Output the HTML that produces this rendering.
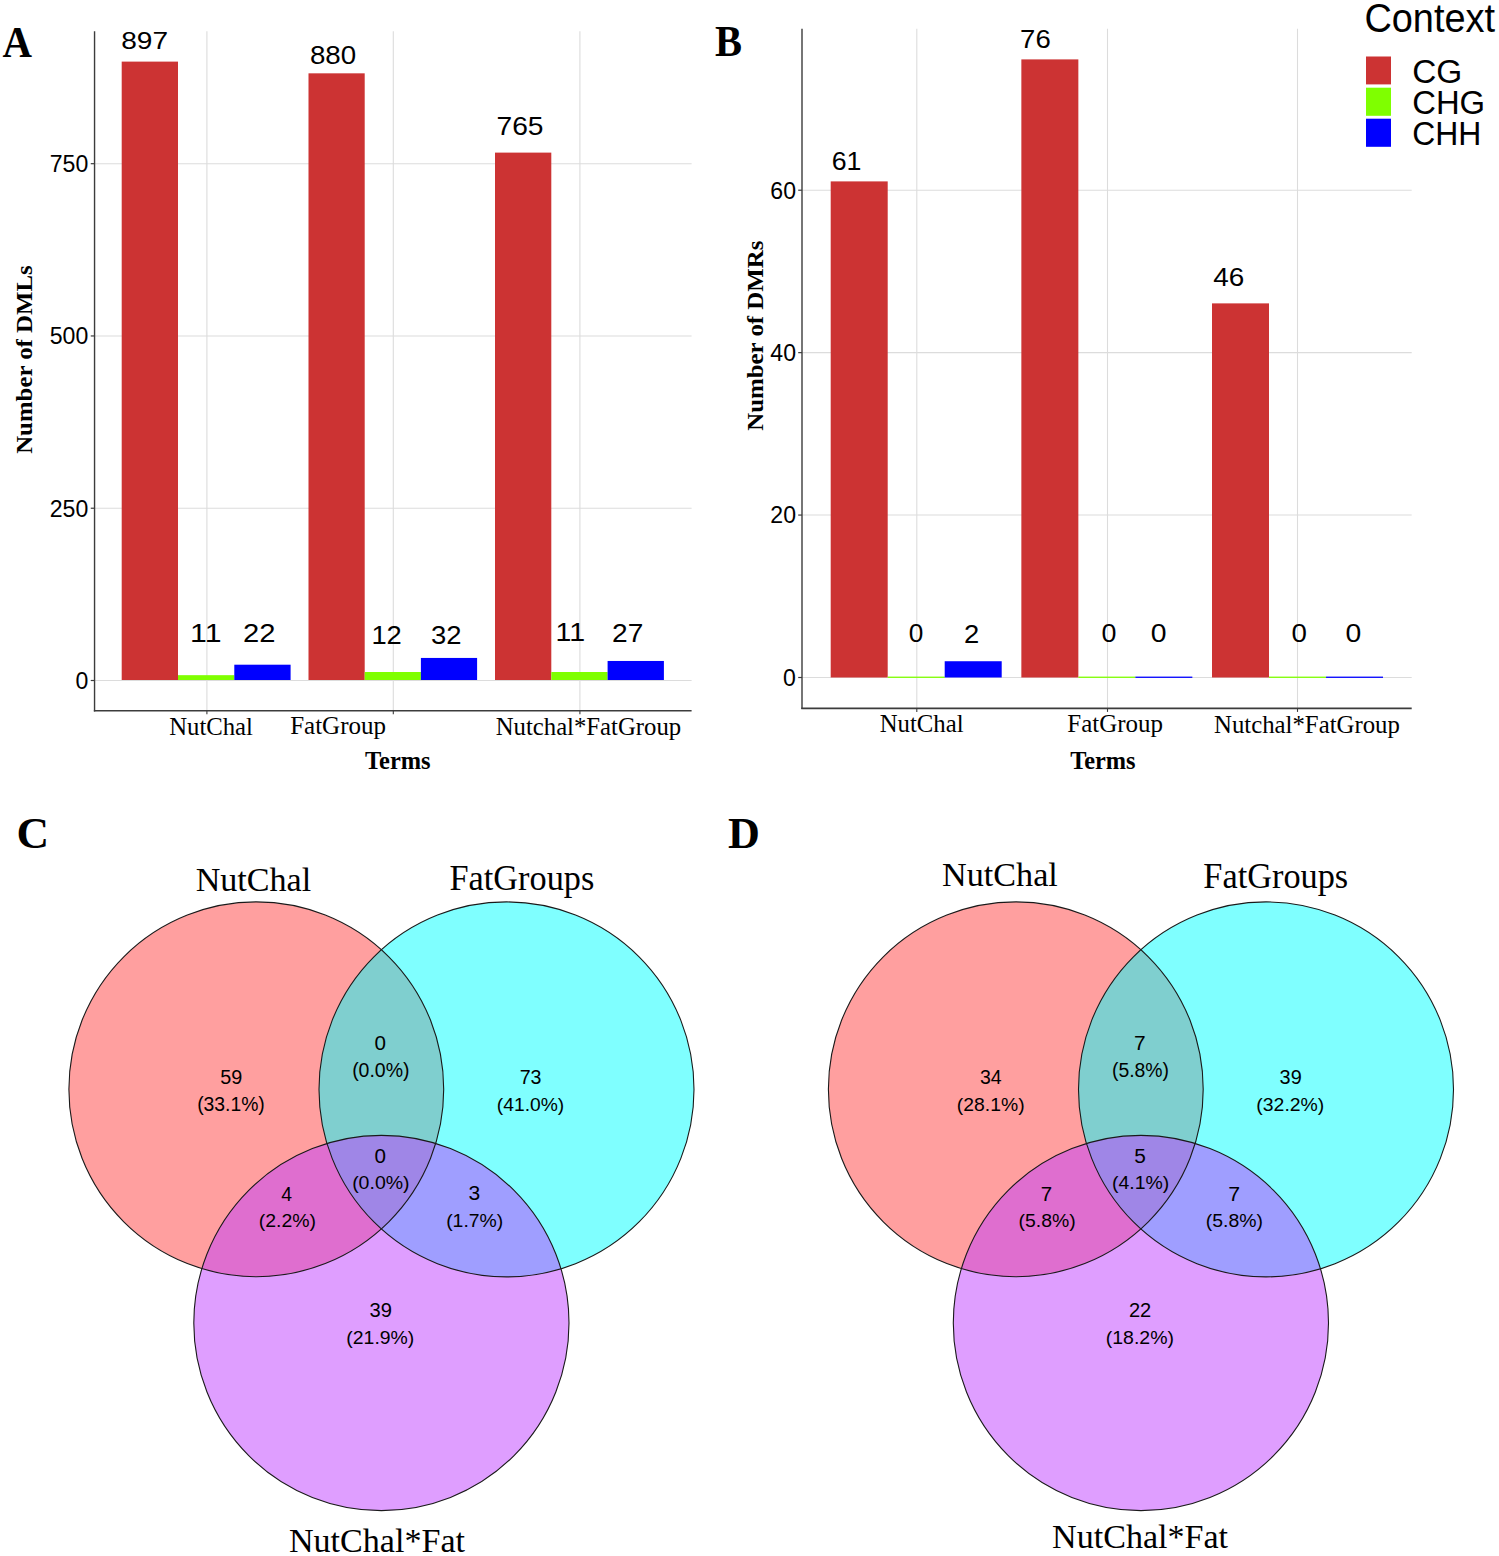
<!DOCTYPE html>
<html><head><meta charset="utf-8"><style>
html,body{margin:0;padding:0;background:#fff;}
body{width:1499px;height:1556px;overflow:hidden;}
svg{display:block;}
text{fill:#000;}
</style></head><body>
<svg width="1499" height="1556" viewBox="0 0 1499 1556">
<line x1="94.55" y1="680.5" x2="691.6" y2="680.5" stroke="#dcdcdc" stroke-width="1.1"/>
<line x1="94.55" y1="508.23" x2="691.6" y2="508.23" stroke="#dcdcdc" stroke-width="1.1"/>
<line x1="94.55" y1="335.96" x2="691.6" y2="335.96" stroke="#dcdcdc" stroke-width="1.1"/>
<line x1="94.55" y1="163.69" x2="691.6" y2="163.69" stroke="#dcdcdc" stroke-width="1.1"/>
<line x1="206.9" y1="31.3" x2="206.9" y2="710.8" stroke="#dcdcdc" stroke-width="1.1"/>
<line x1="393.3" y1="31.3" x2="393.3" y2="710.8" stroke="#dcdcdc" stroke-width="1.1"/>
<line x1="579.9" y1="31.3" x2="579.9" y2="710.8" stroke="#dcdcdc" stroke-width="1.1"/>
<rect x="121.7" y="61.61" width="56.3" height="618.39" fill="#cc3333"/>
<rect x="178" y="675.17" width="56.3" height="4.83" fill="#7fff00"/>
<rect x="234.3" y="664.7" width="56.3" height="15.3" fill="#0000ff"/>
<rect x="308.5" y="73.33" width="56.2" height="606.67" fill="#cc3333"/>
<rect x="364.7" y="672" width="56.2" height="8" fill="#7fff00"/>
<rect x="420.9" y="657.94" width="56.2" height="22.06" fill="#0000ff"/>
<rect x="495" y="152.61" width="56.3" height="527.39" fill="#cc3333"/>
<rect x="551.3" y="672" width="56.3" height="8" fill="#7fff00"/>
<rect x="607.6" y="660.97" width="56.3" height="19.03" fill="#0000ff"/>
<line x1="94.55" y1="31.3" x2="94.55" y2="711.5" stroke="#3c3c3c" stroke-width="1.4"/>
<line x1="93.85" y1="710.8" x2="691.6" y2="710.8" stroke="#3c3c3c" stroke-width="1.6"/>
<line x1="90.75" y1="680.5" x2="94.55" y2="680.5" stroke="#3c3c3c" stroke-width="1.2"/>
<line x1="90.75" y1="508.23" x2="94.55" y2="508.23" stroke="#3c3c3c" stroke-width="1.2"/>
<line x1="90.75" y1="335.96" x2="94.55" y2="335.96" stroke="#3c3c3c" stroke-width="1.2"/>
<line x1="90.75" y1="163.69" x2="94.55" y2="163.69" stroke="#3c3c3c" stroke-width="1.2"/>
<line x1="206.9" y1="710.8" x2="206.9" y2="714.3" stroke="#3c3c3c" stroke-width="1.1"/>
<line x1="393.3" y1="710.8" x2="393.3" y2="714.3" stroke="#3c3c3c" stroke-width="1.1"/>
<line x1="579.9" y1="710.8" x2="579.9" y2="714.3" stroke="#3c3c3c" stroke-width="1.1"/>
<line x1="802" y1="677.5" x2="1411.7" y2="677.5" stroke="#dcdcdc" stroke-width="1.1"/>
<line x1="802" y1="515.07" x2="1411.7" y2="515.07" stroke="#dcdcdc" stroke-width="1.1"/>
<line x1="802" y1="352.64" x2="1411.7" y2="352.64" stroke="#dcdcdc" stroke-width="1.1"/>
<line x1="802" y1="190.21" x2="1411.7" y2="190.21" stroke="#dcdcdc" stroke-width="1.1"/>
<line x1="916.8" y1="28.8" x2="916.8" y2="708.4" stroke="#dcdcdc" stroke-width="1.1"/>
<line x1="1107.5" y1="28.8" x2="1107.5" y2="708.4" stroke="#dcdcdc" stroke-width="1.1"/>
<line x1="1297.5" y1="28.8" x2="1297.5" y2="708.4" stroke="#dcdcdc" stroke-width="1.1"/>
<rect x="830.7" y="181.39" width="57" height="496.11" fill="#cc3333"/>
<rect x="887.7" y="676.6" width="57" height="1.3" fill="#7fff00"/>
<rect x="944.7" y="661.23" width="57" height="16.27" fill="#0000ff"/>
<rect x="1021.35" y="59.39" width="57" height="618.11" fill="#cc3333"/>
<rect x="1078.35" y="676.6" width="57" height="1.3" fill="#7fff00"/>
<rect x="1135.35" y="676.6" width="57" height="1.3" fill="#0000ff"/>
<rect x="1212" y="303.38" width="57" height="374.12" fill="#cc3333"/>
<rect x="1269" y="676.6" width="57" height="1.3" fill="#7fff00"/>
<rect x="1326" y="676.6" width="57" height="1.3" fill="#0000ff"/>
<line x1="802" y1="28.8" x2="802" y2="709.1" stroke="#3c3c3c" stroke-width="1.4"/>
<line x1="801.3" y1="708.4" x2="1411.7" y2="708.4" stroke="#3c3c3c" stroke-width="1.6"/>
<line x1="798.2" y1="677.5" x2="802" y2="677.5" stroke="#3c3c3c" stroke-width="1.2"/>
<line x1="798.2" y1="515.07" x2="802" y2="515.07" stroke="#3c3c3c" stroke-width="1.2"/>
<line x1="798.2" y1="352.64" x2="802" y2="352.64" stroke="#3c3c3c" stroke-width="1.2"/>
<line x1="798.2" y1="190.21" x2="802" y2="190.21" stroke="#3c3c3c" stroke-width="1.2"/>
<line x1="916.8" y1="708.4" x2="916.8" y2="711.9" stroke="#3c3c3c" stroke-width="1.1"/>
<line x1="1107.5" y1="708.4" x2="1107.5" y2="711.9" stroke="#3c3c3c" stroke-width="1.1"/>
<line x1="1297.5" y1="708.4" x2="1297.5" y2="711.9" stroke="#3c3c3c" stroke-width="1.1"/>
<rect x="1366" y="56.5" width="25" height="27.9" fill="#cc3333"/>
<rect x="1366" y="87.7" width="25" height="28.1" fill="#7fff00"/>
<rect x="1366" y="118.7" width="25" height="28.1" fill="#0000ff"/>
<circle cx="256.3" cy="1089.3" r="187.4" fill="#ff4040" fill-opacity="0.5"/>
<circle cx="506.5" cy="1089.4" r="187.5" fill="#00ffff" fill-opacity="0.5"/>
<circle cx="381.4" cy="1323" r="187.6" fill="#bf3eff" fill-opacity="0.5"/>
<circle cx="256.3" cy="1089.3" r="187.4" fill="none" stroke="#1a1a1a" stroke-width="1.1"/>
<circle cx="506.5" cy="1089.4" r="187.5" fill="none" stroke="#1a1a1a" stroke-width="1.1"/>
<circle cx="381.4" cy="1323" r="187.6" fill="none" stroke="#1a1a1a" stroke-width="1.1"/>
<circle cx="1015.8" cy="1089.3" r="187.4" fill="#ff4040" fill-opacity="0.5"/>
<circle cx="1266" cy="1089.4" r="187.5" fill="#00ffff" fill-opacity="0.5"/>
<circle cx="1140.9" cy="1323" r="187.6" fill="#bf3eff" fill-opacity="0.5"/>
<circle cx="1015.8" cy="1089.3" r="187.4" fill="none" stroke="#1a1a1a" stroke-width="1.1"/>
<circle cx="1266" cy="1089.4" r="187.5" fill="none" stroke="#1a1a1a" stroke-width="1.1"/>
<circle cx="1140.9" cy="1323" r="187.6" fill="none" stroke="#1a1a1a" stroke-width="1.1"/>
<text transform="translate(2.49,56.7) scale(0.9172,1)" style="font-family:'Liberation Serif', serif; font-weight:bold;font-size:44.55px">A</text>
<text transform="translate(715.09,56.4) scale(0.9201,1)" style="font-family:'Liberation Serif', serif; font-weight:bold;font-size:44.00px">B</text>
<text transform="translate(16.54,847.95) scale(1.0105,1)" style="font-family:'Liberation Serif', serif; font-weight:bold;font-size:44.70px">C</text>
<text transform="translate(727.92,847.9) scale(1.0035,1)" style="font-family:'Liberation Serif', serif; font-weight:bold;font-size:44.00px">D</text>
<text transform="translate(75.39,688.91) scale(0.9700,1)" style="font-family:'Liberation Sans', sans-serif;font-size:23.80px">0</text>
<text transform="translate(49.77,516.64) scale(0.9700,1)" style="font-family:'Liberation Sans', sans-serif;font-size:23.80px">250</text>
<text transform="translate(49.77,344.37) scale(0.9700,1)" style="font-family:'Liberation Sans', sans-serif;font-size:23.80px">500</text>
<text transform="translate(49.77,172.1) scale(0.9700,1)" style="font-family:'Liberation Sans', sans-serif;font-size:23.80px">750</text>
<text transform="translate(782.99,685.91) scale(0.9700,1)" style="font-family:'Liberation Sans', sans-serif;font-size:23.80px">0</text>
<text transform="translate(770.3,523.48) scale(0.9700,1)" style="font-family:'Liberation Sans', sans-serif;font-size:23.80px">20</text>
<text transform="translate(770.3,361.05) scale(0.9700,1)" style="font-family:'Liberation Sans', sans-serif;font-size:23.80px">40</text>
<text transform="translate(770.3,198.62) scale(0.9700,1)" style="font-family:'Liberation Sans', sans-serif;font-size:23.80px">60</text>
<text transform="translate(121.18,49.15) scale(1.1467,1)" style="font-family:'Liberation Sans', sans-serif;font-size:24.51px">897</text>
<text transform="translate(309.89,63.75) scale(1.0940,1)" style="font-family:'Liberation Sans', sans-serif;font-size:25.35px">880</text>
<text transform="translate(496.49,135.05) scale(1.1134,1)" style="font-family:'Liberation Sans', sans-serif;font-size:25.35px">765</text>
<text transform="translate(190.08,641.9) scale(1.1848,1)" style="font-family:'Liberation Sans', sans-serif;font-size:25.51px">11</text>
<text transform="translate(242.94,641.9) scale(1.1617,1)" style="font-family:'Liberation Sans', sans-serif;font-size:25.14px">22</text>
<text transform="translate(371.41,643.8) scale(1.0635,1)" style="font-family:'Liberation Sans', sans-serif;font-size:25.71px">12</text>
<text transform="translate(431,643.55) scale(1.0828,1)" style="font-family:'Liberation Sans', sans-serif;font-size:25.35px">32</text>
<text transform="translate(555.51,641.4) scale(1.0714,1)" style="font-family:'Liberation Sans', sans-serif;font-size:26.67px">11</text>
<text transform="translate(612.09,641.6) scale(1.1058,1)" style="font-family:'Liberation Sans', sans-serif;font-size:25.43px">27</text>
<text transform="translate(831.66,170.34) scale(1.0429,1)" style="font-family:'Liberation Sans', sans-serif;font-size:25.63px">61</text>
<text transform="translate(1020.12,48.35) scale(1.0927,1)" style="font-family:'Liberation Sans', sans-serif;font-size:25.21px">76</text>
<text transform="translate(1213.34,285.85) scale(1.1131,1)" style="font-family:'Liberation Sans', sans-serif;font-size:25.07px">46</text>
<text transform="translate(908.85,642.45) scale(1.0471,1)" style="font-family:'Liberation Sans', sans-serif;font-size:25.07px">0</text>
<text transform="translate(964.03,642.9) scale(1.0652,1)" style="font-family:'Liberation Sans', sans-serif;font-size:25.71px">2</text>
<text transform="translate(1101.62,642.45) scale(1.0720,1)" style="font-family:'Liberation Sans', sans-serif;font-size:25.07px">0</text>
<text transform="translate(1150.87,642.45) scale(1.1301,1)" style="font-family:'Liberation Sans', sans-serif;font-size:25.07px">0</text>
<text transform="translate(1291.39,642.45) scale(1.1052,1)" style="font-family:'Liberation Sans', sans-serif;font-size:25.07px">0</text>
<text transform="translate(1345.47,642.45) scale(1.1301,1)" style="font-family:'Liberation Sans', sans-serif;font-size:25.07px">0</text>
<text transform="translate(169.16,734.61) scale(1.0150,1)" style="font-family:'Liberation Serif', serif;font-size:24.37px">NutChal</text>
<text transform="translate(290.15,734.2) scale(0.9918,1)" style="font-family:'Liberation Serif', serif;font-size:25.23px">FatGroup</text>
<text transform="translate(495.66,734.67) scale(0.9945,1)" style="font-family:'Liberation Serif', serif;font-size:24.89px">Nutchal*FatGroup</text>
<text transform="translate(879.66,732.1) scale(0.9876,1)" style="font-family:'Liberation Serif', serif;font-size:25.07px">NutChal</text>
<text transform="translate(1067.35,731.78) scale(0.9852,1)" style="font-family:'Liberation Serif', serif;font-size:25.35px">FatGroup</text>
<text transform="translate(1214.06,733.44) scale(1.0096,1)" style="font-family:'Liberation Serif', serif;font-size:24.56px">Nutchal*FatGroup</text>
<text transform="translate(365.01,768.64) scale(0.9485,1)" style="font-family:'Liberation Serif', serif; font-weight:bold;font-size:25.76px">Terms</text>
<text transform="translate(1070.21,768.64) scale(0.9456,1)" style="font-family:'Liberation Serif', serif; font-weight:bold;font-size:25.76px">Terms</text>
<text transform="translate(31.77,453.8) rotate(-90) scale(1.0616,1)" style="font-family:'Liberation Serif', serif; font-weight:bold;font-size:23.38px">Number of DMLs</text>
<text transform="translate(763.46,430.7) rotate(-90) scale(1.0567,1)" style="font-family:'Liberation Serif', serif; font-weight:bold;font-size:23.52px">Number of DMRs</text>
<text transform="translate(1364.4,31.6) scale(0.9544,1)" style="font-family:'Liberation Sans', sans-serif;font-size:39.72px">Context</text>
<text transform="translate(1412.13,83.27) scale(1.0093,1)" style="font-family:'Liberation Sans', sans-serif;font-size:33.10px">CG</text>
<text transform="translate(1412.16,114.07) scale(0.9885,1)" style="font-family:'Liberation Sans', sans-serif;font-size:33.24px">CHG</text>
<text transform="translate(1412.2,145.27) scale(0.9601,1)" style="font-family:'Liberation Sans', sans-serif;font-size:33.24px">CHH</text>
<text transform="translate(195.68,891.23) scale(1.0173,1)" style="font-family:'Liberation Serif', serif;font-size:33.52px">NutChal</text>
<text transform="translate(449.47,889.7) scale(0.9609,1)" style="font-family:'Liberation Serif', serif;font-size:35.70px">FatGroups</text>
<text transform="translate(288.98,1551.71) scale(0.9915,1)" style="font-family:'Liberation Serif', serif;font-size:34.37px">NutChal*Fat</text>
<text transform="translate(942.08,885.92) scale(1.0106,1)" style="font-family:'Liberation Serif', serif;font-size:33.80px">NutChal</text>
<text transform="translate(1203.37,888.28) scale(0.9704,1)" style="font-family:'Liberation Serif', serif;font-size:35.35px">FatGroups</text>
<text transform="translate(1052.08,1548.12) scale(1.0038,1)" style="font-family:'Liberation Serif', serif;font-size:33.94px">NutChal*Fat</text>
<text transform="translate(220.21,1083.61) scale(1.0189,1)" style="font-family:'Liberation Sans', sans-serif;font-size:19.44px">59</text>
<text transform="translate(197.14,1111.29) scale(0.9885,1)" style="font-family:'Liberation Sans', sans-serif;font-size:19.57px">(33.1%)</text>
<text transform="translate(374.38,1049.9) scale(1.0313,1)" style="font-family:'Liberation Sans', sans-serif;font-size:20.00px">0</text>
<text transform="translate(352.13,1077.19) scale(0.9964,1)" style="font-family:'Liberation Sans', sans-serif;font-size:19.57px">(0.0%)</text>
<text transform="translate(519.72,1083.8)" style="font-family:'Liberation Sans', sans-serif;font-size:19.58px">73</text>
<text transform="translate(496.84,1111.46)" style="font-family:'Liberation Sans', sans-serif;font-size:19.26px">(41.0%)</text>
<text transform="translate(374.38,1163) scale(1.0386,1)" style="font-family:'Liberation Sans', sans-serif;font-size:19.86px">0</text>
<text transform="translate(352.13,1189.4) scale(1.0242,1)" style="font-family:'Liberation Sans', sans-serif;font-size:19.04px">(0.0%)</text>
<text transform="translate(281.31,1200.5) scale(0.9496,1)" style="font-family:'Liberation Sans', sans-serif;font-size:20.44px">4</text>
<text transform="translate(258.73,1227.46) scale(1.0110,1)" style="font-family:'Liberation Sans', sans-serif;font-size:19.26px">(2.2%)</text>
<text transform="translate(468.56,1200.1) scale(1.0759,1)" style="font-family:'Liberation Sans', sans-serif;font-size:19.58px">3</text>
<text transform="translate(446.14,1227.46) scale(1.0074,1)" style="font-family:'Liberation Sans', sans-serif;font-size:19.26px">(1.7%)</text>
<text transform="translate(369.59,1316.7) scale(1.0098,1)" style="font-family:'Liberation Sans', sans-serif;font-size:20.00px">39</text>
<text transform="translate(346.34,1344.06) scale(1.0079,1)" style="font-family:'Liberation Sans', sans-serif;font-size:19.26px">(21.9%)</text>
<text transform="translate(979.92,1083.8) scale(0.9829,1)" style="font-family:'Liberation Sans', sans-serif;font-size:19.86px">34</text>
<text transform="translate(956.84,1111.46) scale(1.0049,1)" style="font-family:'Liberation Sans', sans-serif;font-size:19.26px">(28.1%)</text>
<text transform="translate(1133.96,1050.31)" style="font-family:'Liberation Sans', sans-serif;font-size:20.88px">7</text>
<text transform="translate(1111.94,1077.19) scale(0.9909,1)" style="font-family:'Liberation Sans', sans-serif;font-size:19.57px">(5.8%)</text>
<text transform="translate(1279.6,1083.8)" style="font-family:'Liberation Sans', sans-serif;font-size:19.86px">39</text>
<text transform="translate(1256.34,1111.46) scale(1.0079,1)" style="font-family:'Liberation Sans', sans-serif;font-size:19.26px">(32.2%)</text>
<text transform="translate(1134.17,1163) scale(1.0352,1)" style="font-family:'Liberation Sans', sans-serif;font-size:20.14px">5</text>
<text transform="translate(1111.93,1189.4) scale(1.0223,1)" style="font-family:'Liberation Sans', sans-serif;font-size:19.04px">(4.1%)</text>
<text transform="translate(1040.78,1200.5)" style="font-family:'Liberation Sans', sans-serif;font-size:20.44px">7</text>
<text transform="translate(1018.54,1227.46) scale(1.0074,1)" style="font-family:'Liberation Sans', sans-serif;font-size:19.26px">(5.8%)</text>
<text transform="translate(1228.13,1200.5) scale(1.0422,1)" style="font-family:'Liberation Sans', sans-serif;font-size:20.44px">7</text>
<text transform="translate(1205.84,1227.46) scale(1.0074,1)" style="font-family:'Liberation Sans', sans-serif;font-size:19.26px">(5.8%)</text>
<text transform="translate(1128.9,1316.9) scale(0.9908,1)" style="font-family:'Liberation Sans', sans-serif;font-size:20.29px">22</text>
<text transform="translate(1105.73,1344.06) scale(1.0126,1)" style="font-family:'Liberation Sans', sans-serif;font-size:19.26px">(18.2%)</text>
</svg>
</body></html>
